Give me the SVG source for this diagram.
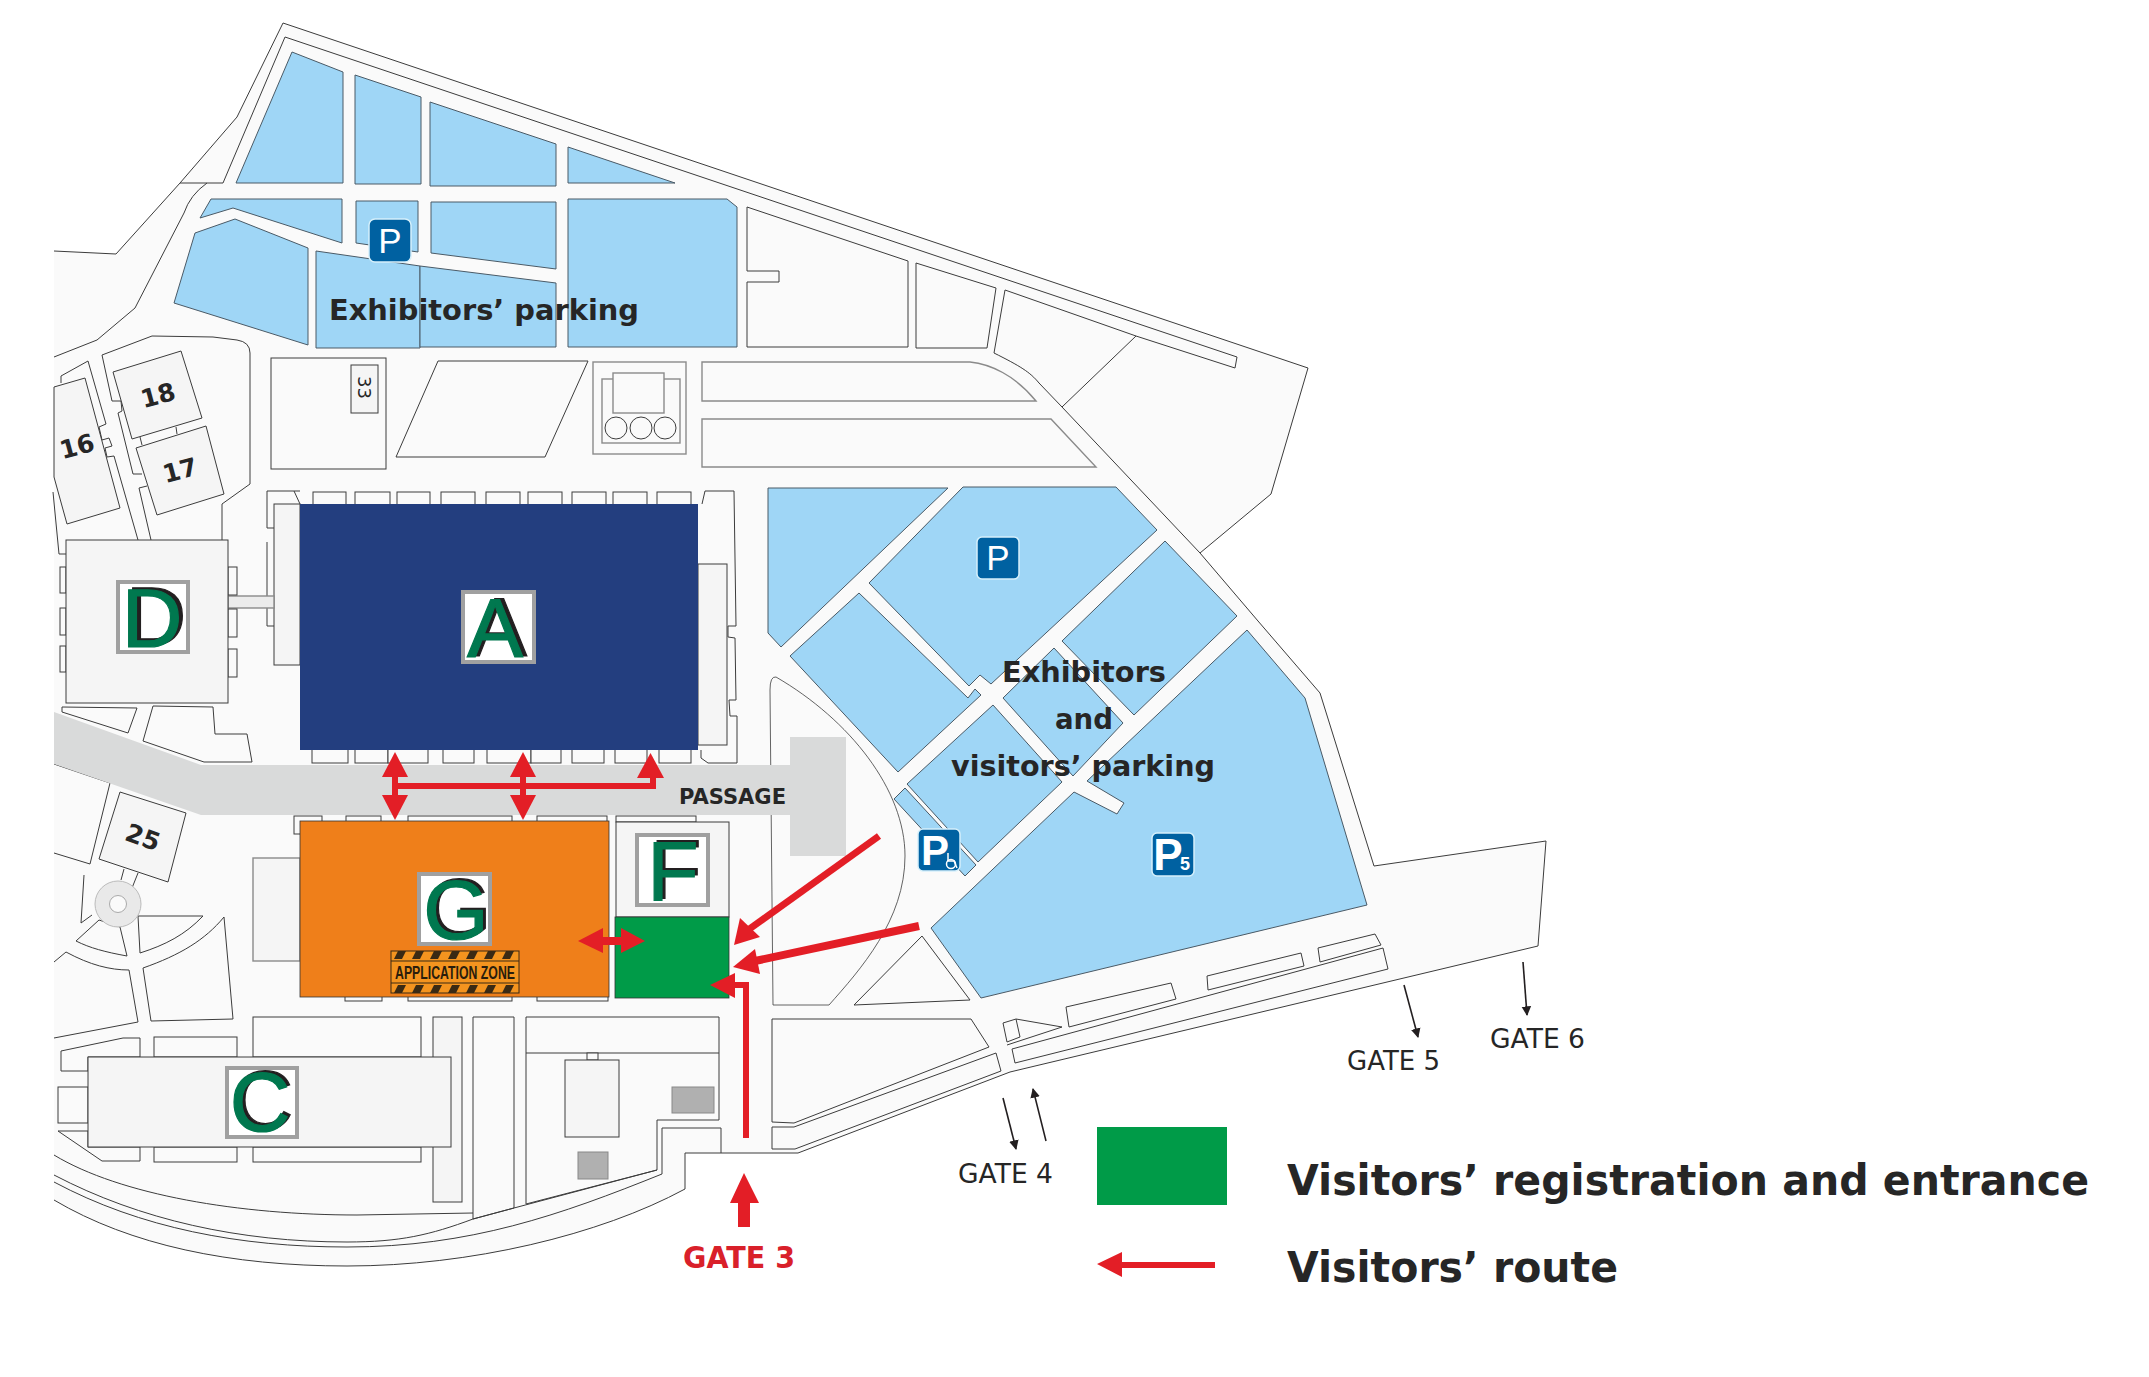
<svg xmlns="http://www.w3.org/2000/svg" width="2149" height="1377" viewBox="0 0 2149 1377">
<style>
.s{fill:#fafafa;stroke:#3c3c3c;stroke-width:1}
.g{fill:#fafafa;stroke:#8a8a8a;stroke-width:1.4}
.l{fill:none;stroke:#3c3c3c;stroke-width:1}
.b{fill:#f5f5f5;stroke:#3c3c3c;stroke-width:1}
.p{fill:#9fd6f6;stroke:#4a5a66;stroke-width:1}
.lb{fill:#fff;stroke:#a0a0a0;stroke-width:4}
.sh{font-family:"Liberation Sans",Arial,sans-serif;font-size:84px;fill:#231f20;stroke:#231f20;stroke-width:1.2;text-anchor:middle}
.lt{font-family:"Liberation Sans",Arial,sans-serif;font-size:84px;fill:#00784f;stroke:#00784f;stroke-width:1.2;text-anchor:middle}
.t{font-family:"DejaVu Sans",sans-serif;fill:#262626}
.bd{font-weight:700}
.n{font-size:25px;text-anchor:middle;font-weight:700}
.gt{font-size:26px}
.sg{fill:#0061a1;stroke:#d6f0fb;stroke-width:1.5}
.sp{font-family:"Liberation Sans",sans-serif;fill:#fff;text-anchor:middle}
.r{fill:#e31e26}
.rl{fill:none;stroke:#e31e26;stroke-width:6}
.k{fill:none;stroke:#231f20;stroke-width:1.6;marker-end:url(#ah)}
</style>
<defs>
<marker id="ah" viewBox="0 0 10 10" refX="9" refY="5" markerWidth="6" markerHeight="9" orient="auto" markerUnits="strokeWidth"><path d="M0,0L10,5L0,10Z" fill="#231f20"/></marker>
<pattern id="st" width="18" height="8" patternUnits="userSpaceOnUse" x="391" y="951"><polygon points="3,8 7,0 15,0 11,8" fill="#3a2a14"/></pattern>
<pattern id="st2" width="18" height="8" patternUnits="userSpaceOnUse" x="391" y="985"><polygon points="3,8 7,0 15,0 11,8" fill="#3a2a14"/></pattern>
</defs>
<rect width="2149" height="1377" fill="#fff"/>
<g id="site">
<path class="s" d="M54,251L116,254L180,183L237,117L283,23L1308,368L1271,494L1200,553L1258,621L1320,693L1374,866L1546,841L1538,946L1010,1072L798,1153L685,1153L685,1189C600,1235 470,1266 347,1266C230,1266 130,1245 54,1200"/>
<path class="l" d="M54,357L97,340L135,308L184,213Q190,195 207,183M180,183L223,183L285,37L1237,357L1235,368L1136,336L1005,290L994,353C1020,366 1030,372 1039,383L1062,407L1136,336M1062,407L1200,553"/>
<path class="l" d="M222,540L222,504L250,484L250,353Q250,342 237,340L213,337L152,336L102,355L112,401L121,401L122,411L118,413L133,474L142,474"/>
<path class="l" d="M139,488L147,486M139,488L151,540M107,457L114,456L138,540M61,383L61,376L88,361L106,424L99,427L102,440L109,438L112,446L105,448L107,457"/>
<path class="l" d="M140,437L142,445M176,427L177,434M53,492L59,554L66,554"/>
</g>
<g id="exhibitors-parking">
<polygon class="p" points="292,52 343,72 343,183 236,183"/>
<polygon class="p" points="355,75 421,97 421,184 355,184"/>
<polygon class="p" points="430,102 556,144 556,186 430,186"/>
<polygon class="p" points="568,147 675,183 568,183"/>
<polygon class="p" points="211,199 342,199 342,243 233,208 200,218"/>
<polygon class="p" points="356,201 418,201 418,252 356,243"/>
<polygon class="p" points="431,202 556,202 556,269 431,253"/>
<polygon class="p" points="568,199 727,199 737,207 737,347 568,347"/>
<polygon class="p" points="195,233 235,219 308,248 308,345 174,303"/>
<polygon class="p" points="316,251 420,266 420,348 316,348"/>
<polygon class="p" points="420,266 556,283 556,347 420,347"/>
</g>
<g id="north-blocks">
<polygon class="s" points="747,207 908,261 908,347 747,347 747,282 779,282 779,271 747,271"/>
<polygon class="s" points="916,263 996,288 987,348 916,348"/>
<path class="g" d="M702,362L970,362C990,364 1015,375 1036,401L702,401Z"/>
<polygon class="g" points="702,419 1051,419 1096,467 702,467"/>
<rect class="s" x="271" y="358" width="115" height="111"/>
<rect class="b" x="351" y="365" width="27" height="48"/>
<polygon class="s" points="438,361 588,361 545,457 396,457"/>
<rect class="g" x="593" y="362" width="93" height="92"/>
<rect class="g" x="602" y="379" width="78" height="64"/>
<rect class="g" x="613" y="373" width="51" height="40"/>
<circle class="s" cx="616" cy="428" r="11"/><circle class="s" cx="641" cy="428" r="11"/><circle class="s" cx="665" cy="428" r="11"/>
<text class="t" transform="translate(358,376) rotate(90)" font-size="18">33</text>
</g>
<g id="b16"><polygon class="b" points="54,387 85,378 120,508 67,524 54,477"/><text class="t n" transform="translate(77,446) rotate(-15)" y="9">16</text></g>
<g id="b18"><polygon class="b" points="113,372 181,351 202,418 132,439"/><text class="t n" transform="translate(158,395) rotate(-15)" y="9">18</text></g>
<g id="b17"><polygon class="b" points="136,448 206,426 224,494 157,515"/><text class="t n" transform="translate(180,470) rotate(-15)" y="9">17</text></g>
<g id="south-west">
<polygon class="s" points="62,707 137,708 128,733 62,712"/>
<polygon class="s" points="153,706 213,707 215,734 247,734 252,762 204,762 143,741"/>
<polyline class="l" points="54,764 110,783 90,864 54,853"/>
<path class="l" d="M84,875L81,923L92,915"/>
<path class="s" d="M76,941L99,920L120,927L127,956C105,952 90,948 76,941Z"/>
<path class="s" d="M138,916L203,916C185,935 165,945 140,953Z"/>
<path class="s" d="M224,917L233,1019L151,1021L143,968C180,955 205,940 224,917Z"/>
<path class="l" d="M54,962L66,952C90,965 110,970 129,970L138,1022L54,1038"/>
<path class="l" d="M121,880L124,869M138,873L130,893"/>
<circle cx="118" cy="904" r="23" fill="#e9e9e9" stroke="#bbb"/>
<circle cx="118" cy="904" r="8.500" fill="#fafafa" stroke="#aaa"/>
</g>
<g id="b25"><polygon class="b" points="120,792 186,813 168,882 99,859"/><text class="t n" transform="translate(143,837) rotate(20)" y="9">25</text></g>
<path class="g" d="M773,1005L770,690Q770,676 776,677C850,720 905,790 905,856C905,920 860,970 829,1005Z" style="fill:none;stroke:#3c3c3c;stroke-width:.8"/>
<g id="passage"><polygon points="54,712 201,765 790,765 790,737 846,737 846,856 790,856 790,815 201,815 54,764" fill="#d9dada"/>
<text class="t bd" x="679" y="804" font-size="22" textLength="107" lengthAdjust="spacingAndGlyphs">PASSAGE</text></g>
<g id="hall-a">
<path class="s" d="M300,491L267,491L267,528L274,528M267,542L267,626L274,626M294,491L300,504"/>
<path class="s" d="M702,504L705,491L734,491L736,626L728,626L728,637L735,638L736,700L729,700L730,716L737,716L737,763L708,763L701,758L701,750"/>
<g class="tabs">
<rect class="s" x="313" y="492" width="33" height="14"/><rect class="s" x="355" y="492" width="35" height="14"/><rect class="s" x="397" y="492" width="33" height="14"/><rect class="s" x="441" y="492" width="34" height="14"/><rect class="s" x="486" y="492" width="34" height="14"/><rect class="s" x="528" y="492" width="34" height="14"/><rect class="s" x="572" y="492" width="34" height="14"/><rect class="s" x="613" y="492" width="34" height="14"/><rect class="s" x="657" y="492" width="34" height="14"/>
<rect class="s" x="312" y="748" width="36" height="15"/><rect class="s" x="355" y="748" width="33" height="15"/><rect class="s" x="388" y="748" width="40" height="15"/><rect class="s" x="443" y="748" width="31" height="15"/><rect class="s" x="487" y="748" width="44" height="15"/><rect class="s" x="531" y="748" width="30" height="15"/><rect class="s" x="572" y="748" width="32" height="15"/><rect class="s" x="615" y="748" width="32" height="15"/><rect class="s" x="659" y="748" width="32" height="15"/>
</g>
<rect class="b" x="274" y="504" width="26" height="161"/>
<rect class="b" x="698" y="564" width="29" height="181"/>
<rect x="300" y="504" width="398" height="246" fill="#233e7f"/>
<rect class="lb" x="463" y="592" width="71" height="70"/>
<text class="sh" x="499" y="656">A</text><text class="lt" x="495" y="657">A</text>
</g>
<g id="hall-d">
<rect class="g" x="228" y="596" width="46" height="12" style="fill:#ececec"/>
<rect class="s" x="60" y="567" width="6" height="26"/><rect class="s" x="60" y="608" width="6" height="27"/><rect class="s" x="60" y="646" width="6" height="26"/>
<rect class="s" x="228" y="567" width="9" height="28"/><rect class="s" x="228" y="609" width="9" height="28"/><rect class="s" x="228" y="649" width="9" height="28"/>
<rect class="b" x="66" y="540" width="162" height="163"/>
<rect class="lb" x="118" y="582" width="70" height="70"/>
<text class="sh" x="156" y="645">D</text><text class="lt" x="152" y="647">D</text>
</g>
<g id="hall-g">
<rect class="s" x="294" y="816" width="28" height="18"/><rect class="s" x="346" y="816" width="35" height="8"/><rect class="s" x="408" y="816" width="104" height="8"/><rect class="s" x="537" y="816" width="70" height="8"/>
<rect class="s" x="345" y="995" width="37" height="6"/><rect class="s" x="408" y="995" width="104" height="6"/><rect class="s" x="537" y="995" width="71" height="6"/>
<rect class="g" x="253" y="858" width="47" height="103" style="fill:#f5f5f5"/>
<rect x="300" y="821" width="309" height="176" fill="#ef7f1a" stroke="#333" stroke-width=".8"/>
<rect class="lb" x="419" y="874" width="71" height="70"/>
<text class="sh" x="459" y="937">G</text><text class="lt" x="456" y="939">G</text>
<rect x="391" y="951" width="128" height="42" fill="#f4941f" stroke="#3a2a14"/>
<rect x="391" y="951" width="128" height="8" fill="url(#st)"/>
<rect x="391" y="985" width="128" height="8" fill="url(#st2)"/>
<path d="M391,961H519M391,983H519" stroke="#3a2a14" fill="none"/>
<text x="455" y="979" font-family="Liberation Sans,sans-serif" font-weight="700" font-size="18" fill="#2a1d0c" text-anchor="middle" textLength="120" lengthAdjust="spacingAndGlyphs">APPLICATION ZONE</text>
</g>
<g id="hall-f">
<rect class="s" x="616" y="816" width="80" height="6"/>
<rect class="b" x="616" y="822" width="113" height="95"/>
<rect class="lb" x="637" y="835" width="71" height="70"/>
<text class="sh" x="676" y="898">F</text><text class="lt" x="673" y="900">F</text>
<rect x="615" y="917" width="114" height="81" fill="#009b48" stroke="#333" stroke-width=".8"/>
</g>
<g id="visitors-parking">
<polygon class="p" points="768,488 948,488 781,647 768,633"/>
<polygon class="p" points="963,487 1116,487 1157,530 991,684 980,675 969,686 869,583"/>
<polygon class="p" points="859,593 968,698 975,689 981,695 898,772 790,656"/>
<polygon class="p" points="1165,541 1237,616 1134,715 1062,641"/>
<polygon class="p" points="1003,698 1054,648 1123,723 1073,776"/>
<polygon class="p" points="993,705 1062,782 978,862 907,784"/>
<polygon class="p" points="905,788 894,799 965,876 976,865"/>
<polygon class="p" points="1247,630 1305,698 1367,905 981,998 931,928 1074,792 1117,814 1124,803 1087,781"/>
</g>
<g id="east-blocks">
<polygon class="s" points="922,936 970,1000 854,1005"/>
<polygon class="s" points="772,1019 971,1019 989,1047 794,1123 772,1122"/>
<polygon class="s" points="772,1127 794,1127 996,1053 1001,1071 795,1149 772,1149"/>
<polygon class="s" points="1003,1023 1016,1019 1020,1037 1007,1042"/>
<polyline class="l" points="1016,1019 1062,1027 1007,1045"/>
<polygon class="s" points="1012,1049 1383,948 1388,969 1015,1063"/>
<polygon class="s" points="1066,1007 1171,983 1176,999 1069,1027"/>
<polygon class="s" points="1207,976 1301,953 1304,966 1208,990"/>
<polygon class="s" points="1318,948 1375,934 1381,945 1320,962"/>
</g>
<g id="hall-c">
<rect class="s" x="154" y="1037" width="83" height="20"/><rect class="s" x="253" y="1017" width="168" height="40"/>
<polygon class="s" points="61,1051 123,1038 140,1038 140,1057 88,1057 88,1071 61,1071"/>
<rect class="s" x="58" y="1087" width="30" height="36"/>
<polygon class="s" points="58,1131 88,1131 88,1147 140,1147 140,1161 102,1161"/>
<rect class="s" x="154" y="1147" width="83" height="15"/><rect class="s" x="253" y="1147" width="168" height="15"/>
<rect class="b" x="433" y="1017" width="29" height="185"/>
<rect class="b" x="88" y="1057" width="363" height="90"/>
<rect class="lb" x="227" y="1068" width="70" height="69"/>
<text class="sh" x="263" y="1129">C</text><text class="lt" x="260" y="1131">C</text>
</g>
<g id="south-blocks">
<polygon class="s" points="473,1017 514,1017 514,1208 473,1219"/>
<polygon class="s" points="526,1017 719,1017 719,1120 657,1120 657,1170 526,1204"/>
<path class="l" d="M526,1053H719"/>
<rect class="s" x="587" y="1053" width="11" height="7"/>
<rect class="b" x="565" y="1060" width="54" height="77"/>
<rect x="672" y="1087" width="42" height="26" fill="#b0b0b0" stroke="#888"/>
<rect x="578" y="1152" width="30" height="27" fill="#b0b0b0" stroke="#888"/>
<path class="l" d="M721,1153L721,1128L662,1128L662,1174C560,1215 470,1247 347,1247C240,1247 140,1228 54,1182"/>
<path class="l" d="M657,1170L514,1208L473,1219C430,1235 400,1242 347,1242C240,1242 140,1220 54,1175"/>
<path class="l" d="M54,1155C120,1195 240,1215 357,1215L473,1213"/>
</g>
<g id="signs">
<g id="sign-p1"><rect class="sg" x="369" y="219" width="42" height="43" rx="6"/><text class="sp" x="390" y="253" font-size="35">P</text></g>
<g id="sign-p2"><rect class="sg" x="977" y="537" width="42" height="42" rx="5"/><text class="sp" x="998" y="570" font-size="35">P</text></g>
<g id="sign-p-disabled"><rect class="sg" x="918" y="829" width="42" height="42" rx="5"/><text class="sp" x="935" y="865" font-weight="700" font-size="42">P</text>
<circle cx="951" cy="864" r="4.500" fill="none" stroke="#fff" stroke-width="1.500"/><path d="M948,853L948,861L954,861L957,868" fill="none" stroke="#fff" stroke-width="1.500"/></g>
<g id="sign-p5"><rect class="sg" x="1152" y="833" width="42" height="43" rx="5"/><text class="sp" x="1168" y="870" font-weight="700" font-size="44">P</text><text class="sp" x="1185" y="870" font-weight="700" font-size="18">5</text></g>
</g>
<g id="connectors">
<path class="rl" d="M395,775V797M523,775V797M395,786H653V776"/>
<polygon class="r" points="395,752 408,777 382,777"/><polygon class="r" points="395,820 408,795 382,795"/>
<polygon class="r" points="523,752 536,777 510,777"/><polygon class="r" points="523,820 536,795 510,795"/>
<polygon class="r" points="650.500,753 664,778 637,778"/>
<polygon class="r" points="578,941 603,928 603,953"/><polygon class="r" points="645,941 621,928 621,953"/><rect class="r" x="600" y="937" width="24" height="8"/>
<path d="M879,836L748,930" fill="none" stroke="#e31e26" stroke-width="7"/><polygon class="r" points="734,945 740,918 760,937"/>
<path d="M919,926L755,961" fill="none" stroke="#e31e26" stroke-width="8"/><polygon class="r" points="733,967 755,949 760,974"/>
<path class="rl" d="M746,1138V985H730"/><polygon class="r" points="710,985 735,973 735,998"/>
<polygon class="r" points="744,1173 759,1203 750,1203 750,1227 738,1227 738,1203 730,1203"/>
<path class="k" d="M1003,1098L1016,1149"/><path class="k" d="M1046,1141L1033,1089"/>
<path class="k" d="M1404,985L1418,1037"/><path class="k" d="M1523,962L1527,1015"/>
</g>
<g id="labels">
<text class="t bd" x="329" y="320" font-size="29" textLength="310" lengthAdjust="spacingAndGlyphs">Exhibitors’ parking</text>
<text class="t bd" x="1002" y="682" font-size="29" textLength="164" lengthAdjust="spacingAndGlyphs">Exhibitors</text>
<text class="t bd" x="1055" y="729" font-size="29" textLength="58" lengthAdjust="spacingAndGlyphs">and</text>
<text class="t bd" x="951" y="776" font-size="29" textLength="264" lengthAdjust="spacingAndGlyphs">visitors’ parking</text>
<text class="t bd" x="683" y="1268" font-size="30" style="fill:#d9202a" textLength="112" lengthAdjust="spacingAndGlyphs">GATE 3</text>
<text class="t gt" x="958" y="1183" textLength="95" lengthAdjust="spacingAndGlyphs">GATE 4</text>
<text class="t gt" x="1347" y="1070" textLength="93" lengthAdjust="spacingAndGlyphs">GATE 5</text>
<text class="t gt" x="1490" y="1048" textLength="95" lengthAdjust="spacingAndGlyphs">GATE 6</text>
</g>
<g id="legend">
<rect x="1097" y="1127" width="130" height="78" fill="#009b48"/>
<polygon class="r" points="1097,1264 1122,1252 1122,1262 1215,1262 1215,1268 1122,1268 1122,1277"/>
<text class="t bd" x="1287" y="1195" font-size="42" textLength="802" lengthAdjust="spacingAndGlyphs">Visitors’ registration and entrance</text>
<text class="t bd" x="1287" y="1282" font-size="42" textLength="331" lengthAdjust="spacingAndGlyphs">Visitors’ route</text>
</g>
</svg>
